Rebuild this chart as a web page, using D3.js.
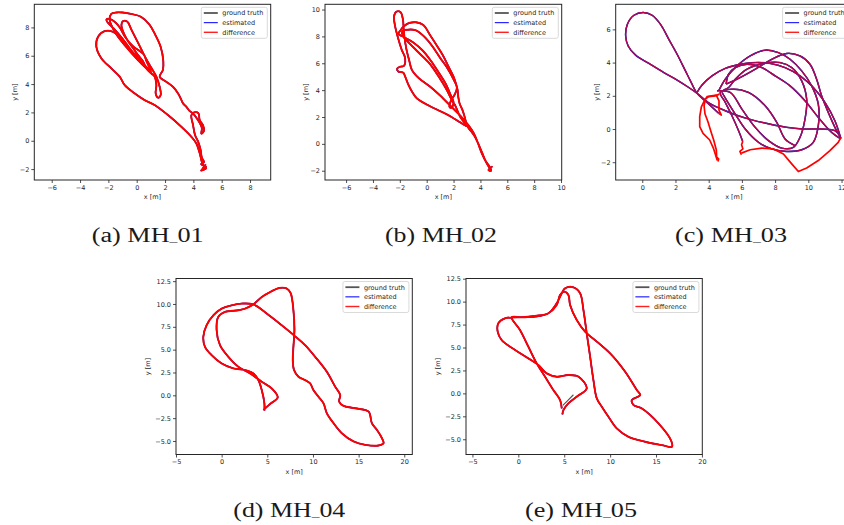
<!DOCTYPE html>
<html><head><meta charset="utf-8">
<script src="https://cdn.jsdelivr.net/npm/d3@7"></script>
<style>
body{margin:0;background:#fff;}
svg{display:block;}
</style></head><body>
<svg id="fig" width="844" height="525"></svg>
<script>
// ---------- tick labels ----------
const ticksA_x = [-6,-4,-2,0,2,4,6,8], ticksA_y = [-2,0,2,4,6,8];
const ticksB_x = [-6,-4,-2,0,2,4,6,8,10], ticksB_y = [-2,0,2,4,6,8,10];
const ticksC_x = [0,2,4,6,8,10,12], ticksC_y = [-2,0,2,4,6];
const ticksD_x = [-5,0,5,10,15,20], ticksD_y = [-5,-2.5,0,2.5,5,7.5,10,12.5];
const ticksE_x = [-5,0,5,10,15,20], ticksE_y = [-5,-2.5,0,2.5,5,7.5,10,12.5];
const legendLabels = ["ground truth","estimated","difference"];
const captionLetters = ["(a)","(b)","(c)","(d)","(e)"];
const captionSeqs = ["01","02","03","04","05"];

// ---------- trajectories (x [m], y [m]) ----------
const mh01 = [
[4.70,-1.90],[4.85,-1.70],[4.60,-2.05],[4.90,-1.85],[4.55,-1.65],[4.75,-1.50],[4.60,-1.20],[4.50,-0.60],[4.35,-0.10],[4.12,0.40],[3.98,1.10],[3.86,1.80],[4.05,2.00],[4.35,1.95],[4.45,1.45],[4.68,1.10],[4.75,0.70],[4.56,0.50],[4.60,0.90],[4.30,1.50],[3.95,1.95],[3.74,2.10],[3.50,2.40],[3.27,2.64],[3.10,3.00],[2.92,3.34],[2.56,3.81],[2.09,4.16],[1.62,4.52],
[1.85,5.00],[1.88,5.60],[1.70,6.60],[1.30,7.50],[0.90,8.20],[0.30,8.75],[-0.40,8.95],[-1.00,9.05],[-1.45,9.05],[-1.80,8.95],[-1.91,8.55],[-1.55,7.69],[-0.85,6.75],[0.09,5.69],[0.92,4.87],[1.27,4.52],[1.39,3.93],[1.34,3.34],[1.51,3.04],[1.69,3.22],[1.62,3.81],[1.39,4.52],
[1.00,5.20],[0.60,5.90],[0.30,6.50],[-0.10,7.30],[-0.38,7.85],[-0.66,8.40],[-0.96,8.45],[-1.08,8.16],[-0.73,7.22],[-0.30,6.60],[0.09,6.05],[0.45,5.60],[0.68,5.11],[1.15,4.64],
[0.60,5.20],[0.20,5.70],[-0.40,6.40],[-1.00,7.20],[-1.60,7.90],[-2.05,8.35],[-2.14,8.55],[-1.90,8.60],[-1.50,8.35],[-1.20,8.00],[-0.80,7.30],[-0.30,6.70],[0.25,6.30],[0.50,6.10],[0.70,5.60],[1.00,4.90],
[0.60,5.30],[0.00,6.00],[-0.61,6.52],[-1.20,7.34],[-1.67,7.69],[-2.26,7.74],[-2.73,7.34],[-2.85,6.64],[-2.49,5.81],[-1.79,5.11],[-1.20,4.52],[-0.85,3.93],[-0.14,3.34],[0.56,2.87],[1.27,2.52],[2.21,1.81],[3.15,0.99],[3.86,0.28],[4.21,-0.19],[4.45,-0.89],[4.60,-1.50],[4.75,-1.90],[4.55,-2.10],[4.90,-1.95],[4.70,-1.75]
];
const mh02 = [
[4.70,-1.85],[4.85,-1.70],[4.60,-1.95],[4.80,-2.00],[4.65,-1.65],[4.40,-1.30],[4.10,-0.60],[3.80,0.10],[3.55,0.60],[3.30,0.95],[3.10,1.20],
[2.95,1.55],[2.80,2.10],[2.65,2.55],[2.45,3.00],[2.35,3.50],[2.30,4.00],[2.20,4.40],[2.00,5.00],[1.60,5.80],[1.20,6.60],[0.70,7.40],[0.25,8.10],[-0.25,8.85],[-0.80,9.05],[-1.30,9.00],[-1.70,8.75],[-1.95,8.45],[-2.10,8.20],
[-1.60,7.90],[-1.00,7.55],[-0.30,6.95],[0.30,6.20],[0.90,5.30],[1.40,4.50],[1.80,3.60],[2.00,3.10],[1.85,2.70],[1.70,2.75],[1.80,3.20],[2.10,3.70],[2.25,4.20],
[2.00,4.80],[1.50,5.70],[1.00,6.40],[0.40,7.30],[-0.20,8.00],[-0.80,8.45],[-1.40,8.50],[-1.80,8.40],[-1.75,8.00],[-1.30,7.50],[-0.60,6.80],[0.20,6.00],[0.90,5.00],[1.50,4.00],[1.90,3.20],[2.10,2.90],
[2.50,2.00],[3.00,1.30],[2.50,1.60],[1.50,2.20],[0.25,2.80],[-0.74,3.40],[-1.10,3.90],[-1.36,4.40],[-1.60,5.00],[-1.74,5.30],[-2.11,5.38],[-2.20,5.60],[-1.95,5.75],[-1.70,5.80],[-1.61,6.40],[-1.86,7.00],[-2.11,7.80],[-2.36,8.80],[-2.43,9.50],[-2.25,9.85],[-1.94,9.80],[-1.76,9.20],[-1.72,8.60],[-1.65,7.90],[-1.50,7.00],[-1.30,6.20],[-1.10,5.50],[-0.60,4.90],[0.20,4.30],[1.00,3.60],[1.80,2.80],[2.50,2.10],[3.10,1.40],[3.50,0.80],[3.80,0.10],[4.10,-0.70],[4.50,-1.50],[4.75,-1.90]
];
const mh03Teardrop = [
[4.60,0.95],[3.90,1.60],[3.30,2.15],[2.90,2.90],[2.60,3.50],[2.10,4.50],[1.60,5.40],[1.10,6.30],[0.60,6.85],[0.05,7.02],[-0.50,6.85],[-0.90,6.30],[-1.00,5.60],[-0.85,5.00],[-0.40,4.45],[0.40,3.95],[1.30,3.40],[2.10,2.95],[2.80,2.50],[3.30,2.15],[4.06,1.54],[5.00,1.10],[5.66,0.84],[6.60,0.55],[7.66,0.30],[8.70,0.10],[9.66,0.00],[10.80,0.00],[11.60,-0.10],[11.95,-0.50]
];
const mh03LoopA = [
[11.95,-0.55],[11.60,0.50],[11.00,1.60],[10.30,2.50],[9.50,3.20],[8.60,3.70],[7.70,3.95],[6.80,4.00],[5.90,3.90],[5.00,3.65],[4.20,3.20],[3.60,2.65],[3.30,2.20]
];
const mh03LoopB = [
[4.60,2.30],[5.00,3.00],[5.60,3.70],[6.50,4.40],[7.40,4.75],[8.20,4.60],[8.90,4.20],[9.60,3.50],[10.20,2.60],[10.60,1.50],[10.60,0.20],[10.30,-0.80],[9.60,-1.25],[8.70,-1.35],[7.80,-1.20],[7.00,-0.80],[6.20,0.00],[5.60,0.90],[5.10,1.70],[4.80,2.20]
];
const mh03LoopC = [
[5.05,2.70],[5.80,3.05],[6.80,3.60],[7.80,4.20],[8.70,4.55],[9.50,4.40],[10.10,3.90],[10.50,3.00],[10.80,2.00],[11.20,1.00],[11.70,-0.10],[11.95,-0.55],[11.40,-0.20],[10.60,0.70],[9.80,1.70],[8.90,2.60],[8.00,3.20],[7.20,3.70],[6.30,3.90],[5.60,3.70],[5.20,3.30],[5.05,2.70]
];
const mh03LoopD = [
[4.50,2.30],[5.30,2.20],[6.00,1.20],[6.80,0.10],[7.60,-0.70],[8.40,-1.15],[9.10,-1.10],[9.50,-0.50],[9.80,0.60],[9.90,1.80],[9.60,2.90],[9.00,3.70],[8.30,4.00],[7.30,3.95],[6.30,3.60],[5.60,3.00],[5.20,2.50],[4.90,2.35]
];
const mh03LoopE = [
[6.05,-0.75],[5.80,-0.10],[5.40,0.80],[5.00,1.60],[4.70,2.20],[5.40,2.40],[6.40,2.20],[7.40,1.40],[8.10,0.40],[8.60,-0.60],[9.20,-1.00]
];
const mh03NoisyA = [
[4.56,-1.96],[4.60,-1.80],[4.48,-1.70],[4.46,-1.26],[4.30,-0.66],[4.12,-0.10],[3.95,0.45],[3.78,0.90],[3.72,1.40],[3.80,1.80],[4.00,1.95],[4.40,2.00],[4.65,2.10]
];
const mh03NoisyB = [
[4.52,-1.90],[4.30,-1.20],[4.06,-0.66],[3.66,-0.26],[3.46,0.14],[3.46,0.74],[3.56,1.34],[3.76,1.74],[3.90,1.95],[4.46,2.04],[4.62,1.70],[4.62,1.14],[4.76,0.84],[4.60,0.95]
];
const mh03NoisyC = [
[5.97,-1.55],[5.88,-1.35],[6.06,-1.20],[5.98,-0.95],[6.05,-0.75]
];
const mh03NoisyD = [
[5.97,-1.45],[6.50,-1.25],[7.20,-1.15],[7.90,-1.20],[8.50,-1.50],[9.00,-2.10],[9.40,-2.56],[9.90,-2.35],[10.60,-1.90],[11.30,-1.30],[11.80,-0.80],[11.95,-0.55]
];
const mh04 = [
[4.57,-1.60],[5.30,-0.95],[6.14,-0.22],[5.48,0.76],[4.39,1.49],[3.11,2.40],[1.83,3.13],[0.73,4.22],[-0.18,5.49],[-0.55,7.13],[-0.37,8.58],[0.37,9.13],[1.83,9.31],[2.56,9.49],[3.47,9.96],[4.39,10.76],[5.40,11.35],[6.30,11.75],[7.10,11.70],[7.55,11.20],[7.86,9.31],[7.97,7.13],[7.86,5.31],[7.79,3.85],[7.93,2.76],[8.41,2.04],[9.14,1.67],[9.69,1.31],[10.05,0.58],[10.60,-0.15],[11.15,-0.87],[11.52,-1.96],[12.25,-3.05],[13.16,-4.15],[14.44,-5.05],[15.72,-5.42],[17.18,-5.49],[17.73,-5.24],[17.55,-4.69],[17.00,-3.78],[16.45,-3.05],[16.09,-1.78],[14.63,-1.42],[13.35,-1.16],[12.87,-0.69],[12.98,0.04],[12.43,0.95],[11.52,2.58],[10.24,4.22],[9.14,5.49],[8.04,6.47],[6.58,7.67],[4.94,8.95],[3.47,9.96],[2.19,10.04],[1.10,9.85],[0.00,9.49],[-0.91,8.76],[-1.65,7.67],[-2.01,6.40],[-1.83,5.31],[-1.10,4.40],[0.00,3.49],[1.28,2.95],[2.56,2.76],[3.47,2.40],[4.02,1.67],[4.39,0.58],[4.68,-0.87],[4.68,-1.67]
];
const mh05 = [
[4.73,-1.64],[4.55,-0.73],[3.82,0.36],[2.91,1.82],[2.00,3.27],[1.09,5.09],[0.18,6.91],[-0.73,8.29],[0.36,8.29],[1.82,8.44],[3.27,8.73],[4.18,9.82],[4.73,10.91],[5.09,11.45],[6.00,11.56],[6.73,10.91],[7.09,9.09],[7.45,6.55],[7.82,4.00],[8.18,1.45],[8.55,-0.55],[9.09,-1.45],[9.82,-2.55],[10.73,-3.82],[12.00,-4.73],[13.82,-5.27],[15.64,-5.64],[16.73,-5.82],[16.65,-5.16],[15.27,-3.27],[13.45,-1.64],[12.55,-1.27],[12.36,-0.73],[13.27,-0.18],[12.91,0.36],[11.64,2.36],[10.00,4.36],[8.55,5.64],[7.27,6.73],[6.36,8.00],[5.64,9.64],[5.45,10.73],[4.98,11.09],[4.55,10.73],[4.18,9.64],[3.27,8.73],[1.82,8.36],[0.00,8.29],[-1.45,8.18],[-2.18,7.64],[-2.25,6.73],[-1.82,5.82],[-0.36,4.73],[1.09,3.82],[2.18,3.09],[3.09,2.18],[4.18,1.82],[5.45,2.00],[6.55,1.82],[7.45,0.55],[6.36,-0.36],[5.45,-1.09],[4.91,-1.82],[4.80,-2.29]
];
const mh05GtOnly = [[4.85,-1.30],[5.40,-0.75],[6.00,-0.15]];

// ---------- layout ----------
const panels = [
 {box:[34.3,4.3,270.7,180], xd:[-7.23,9.46], yd:[-2.77,9.63], xt:ticksA_x, yt:ticksA_y, dec:0, smooth:[mh01], noisy:[], gtOnly:[], style:'red', capX:91.7, capY:241.7},
 {box:[325,4.3,561.7,180], xd:[-7.57,10.05], yd:[-2.69,10.39], xt:ticksB_x, yt:ticksB_y, dec:0, smooth:[mh02], noisy:[], gtOnly:[], style:'red', capX:385, capY:241.7},
 {box:[615.7,4.3,852,180], xd:[-1.6,12.63], yd:[-3.07,7.51], xt:ticksC_x, yt:ticksC_y, dec:0, smooth:[mh03Teardrop,mh03LoopA,mh03LoopB,mh03LoopC,mh03LoopD,mh03LoopE], noisy:[mh03NoisyA,mh03NoisyB,mh03NoisyC,mh03NoisyD], gtOnly:[], style:'mix', capX:675, capY:241.7},
 {box:[176,278.5,412.3,454.5], xd:[-5.0,20.88], yd:[-6.48,12.79], xt:ticksD_x, yt:ticksD_y, dec:1, smooth:[mh04], noisy:[], gtOnly:[], style:'red', capX:233.3, capY:516.7},
 {box:[466,278.5,702.3,454.5], xd:[-5.7,20.04], yd:[-6.66,12.52], xt:ticksE_x, yt:ticksE_y, dec:1, smooth:[mh05], noisy:[], gtOnly:[mh05GtOnly], style:'red', capX:525, capY:516.7}
];

const svg = d3.select('#fig');
const tickFont = 'DejaVu Sans';
const fmtTick = dec => d => (d<0?'\u2212':'') + (dec ? Math.abs(d).toFixed(dec) : String(Math.abs(d)));

panels.forEach((p,i)=>{
  const [L,T,R,B] = p.box;
  const x = d3.scaleLinear().domain(p.xd).range([L,R]);
  const y = d3.scaleLinear().domain(p.yd).range([B,T]);
  const g = svg.append('g');
  const clipId = 'clip'+i;
  svg.append('clipPath').attr('id',clipId).append('rect').attr('x',L).attr('y',T).attr('width',R-L).attr('height',B-T);

  const smoothLine = d3.line().x(d=>x(d[0])).y(d=>y(d[1])).curve(d3.curveCatmullRom.alpha(0.5));
  const rawLine = d3.line().x(d=>x(d[0])).y(d=>y(d[1]));
  const plot = g.append('g').attr('clip-path',`url(#${clipId})`);

  p.gtOnly.forEach(s=> plot.append('path').attr('d',rawLine(s)).attr('fill','none').attr('stroke','#505050').attr('stroke-width',1.1));
  p.smooth.forEach(s=>{
    plot.append('path').attr('d',smoothLine(s)).attr('fill','none').attr('stroke','#505050').attr('stroke-width',1.5).attr('stroke-linejoin','round');
    plot.append('path').attr('d',smoothLine(s)).attr('fill','none').attr('stroke','#1010ff').attr('stroke-width',1.4).attr('stroke-linejoin','round');
    if(p.style==='red'){
      plot.append('path').attr('d',smoothLine(s)).attr('fill','none').attr('stroke','#ff0000').attr('stroke-width',1.9).attr('stroke-linejoin','round');
    } else {
      plot.append('path').attr('d',smoothLine(s)).attr('fill','none').attr('stroke','#ff0000').attr('stroke-opacity',0.7).attr('stroke-width',1.3).attr('stroke-linejoin','round');
    }
  });
  p.noisy.forEach(s=> plot.append('path').attr('d',rawLine(s)).attr('fill','none').attr('stroke','#ff0000').attr('stroke-width',1.7).attr('stroke-linejoin','round'));

  // axes
  const ax = g.append('g').attr('transform',`translate(0,${B})`)
     .call(d3.axisBottom(x).tickValues(p.xt).tickSize(3).tickPadding(2).tickFormat(fmtTick(0)));
  const ay = g.append('g').attr('transform',`translate(${L},0)`)
     .call(d3.axisLeft(y).tickValues(p.yt).tickSize(3).tickPadding(2).tickFormat(fmtTick(p.dec)));
  [ax,ay].forEach(a=>{
    a.select('.domain').remove();
    a.selectAll('line').attr('stroke','#222').attr('stroke-width',0.8);
    a.selectAll('text').attr('font-family',tickFont).attr('font-size','6.5px').attr('fill','#262626');
  });
  g.append('rect').attr('x',L).attr('y',T).attr('width',R-L).attr('height',B-T)
    .attr('fill','none').attr('stroke','#262626').attr('stroke-width',1);

  g.append('text').attr('x',(L+R)/2).attr('y',B+19).attr('text-anchor','middle')
    .attr('font-family',tickFont).attr('font-size','6.5px').attr('fill','#262626').text('x [m]');
  const yl = p.dec ? L-26 : L-17;
  g.append('text').attr('transform',`translate(${yl},${(T+B)/2}) rotate(-90)`).attr('text-anchor','middle')
    .attr('font-family',tickFont).attr('font-size','6.5px').attr('fill','#262626').text('y [m]');

  // legend
  const lw = 66, lh = 31, lx = R-3.4-lw, ly = T+3;
  const lg = g.append('g');
  lg.append('rect').attr('x',lx).attr('y',ly).attr('width',lw).attr('height',lh).attr('rx',2)
    .attr('fill','#fff').attr('fill-opacity',0.85).attr('stroke','#d0d0d0').attr('stroke-width',0.8);
  const lcol = ['#555555','#1010ff','#ff2020'], lwid=[1.8,1.1,1.4];
  legendLabels.forEach((t,j)=>{
    const yy = ly+5.7+j*9.65;
    lg.append('line').attr('x1',lx+2.5).attr('x2',lx+16.5).attr('y1',yy).attr('y2',yy).attr('stroke',lcol[j]).attr('stroke-width',lwid[j]);
    lg.append('text').attr('x',lx+21).attr('y',yy+2.3).attr('font-family',tickFont).attr('font-size','6.5px').attr('fill','#262626').text(t);
  });

  // caption: "(a) MH_01" with a LaTeX-like low rule for the underscore
  const cap = svg.append('text').attr('x',p.capX).attr('y',p.capY)
    .attr('font-family','Liberation Serif').attr('font-size','20px').attr('fill','#1a1a1a');
  cap.append('tspan').text(captionLetters[i] + ' MH');
  cap.append('tspan').attr('font-size','12px').attr('dy',-0.5).text('_');
  cap.append('tspan').attr('dy',0.5).text(captionSeqs[i]);
  const bb = cap.node().getComputedTextLength();
  cap.attr('textLength',112).attr('lengthAdjust','spacingAndGlyphs');
});
</script>
</body></html>
